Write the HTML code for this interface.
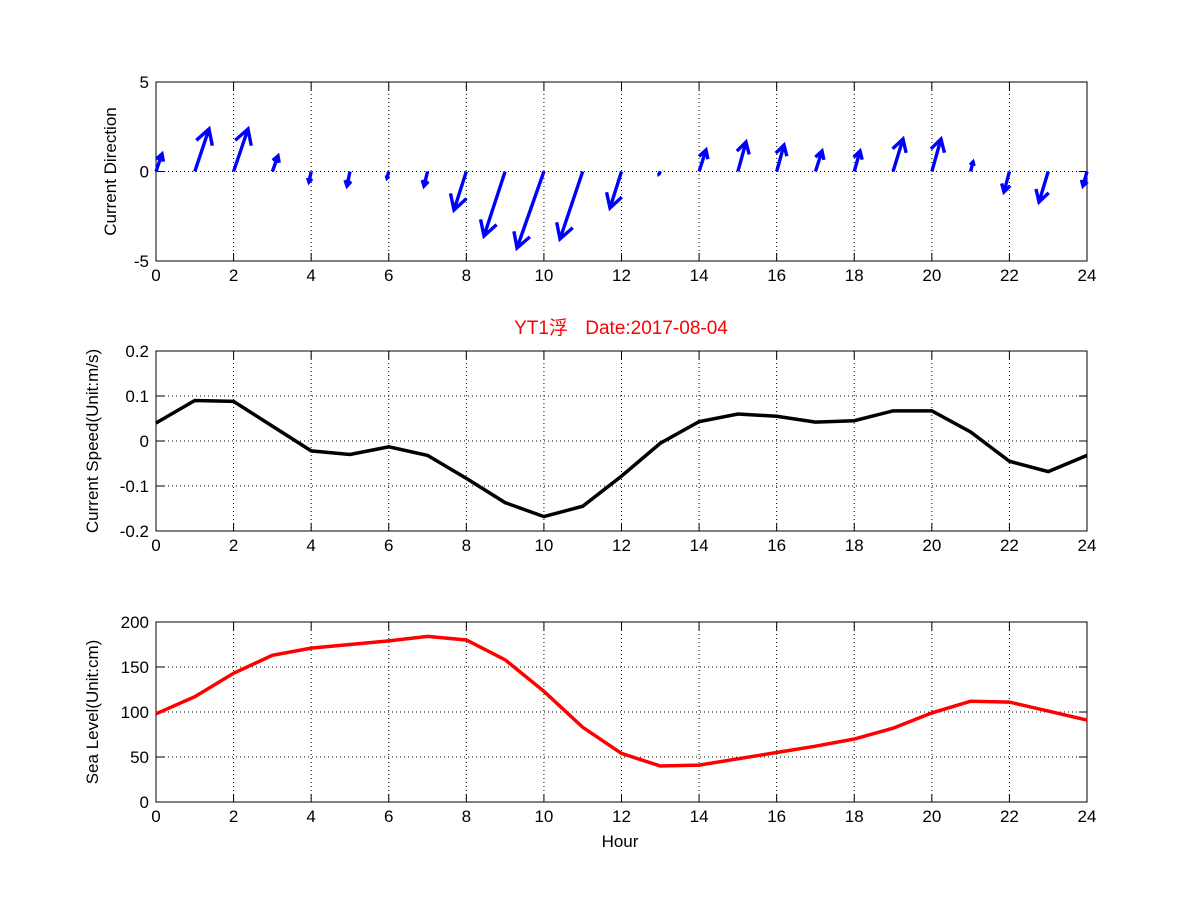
<!DOCTYPE html><html><head><meta charset="utf-8"><style>body{margin:0;background:#fff}svg{display:block}text{font-family:"Liberation Sans","Noto Sans CJK SC",sans-serif;font-size:17px;fill:#000}</style></head><body>
<svg id="s" width="1201" height="901" xmlns="http://www.w3.org/2000/svg"></svg>
<script>
const s=document.getElementById('s');let h='';
const X0=156,X1=1087,dx=(X1-X0)/24;
function ax(top,bot,yt,ylab){
 h+=`<rect x="${X0}" y="${top}" width="${X1-X0}" height="${bot-top}" fill="#fff" stroke="#000" stroke-width="1"/>`;
 for(let i=2;i<24;i+=2){let x=X0+i*dx;h+=`<line x1="${x}" y1="${top}" x2="${x}" y2="${bot}" stroke="#000" stroke-dasharray="1,3"/>`;}
 for(let i=0;i<=24;i+=2){let x=X0+i*dx;h+=`<line x1="${x}" y1="${bot}" x2="${x}" y2="${bot-8}" stroke="#000"/><line x1="${x}" y1="${top}" x2="${x}" y2="${top+8}" stroke="#000"/><text x="${x}" y="${bot+20}" text-anchor="middle">${i}</text>`;}
 yt.forEach(([v,y])=>{if(y>top&&y<bot)h+=`<line x1="${X0}" y1="${y}" x2="${X1}" y2="${y}" stroke="#000" stroke-dasharray="1,3"/>`;h+=`<line x1="${X0}" y1="${y}" x2="${X0+8}" y2="${y}" stroke="#000"/><line x1="${X1}" y1="${y}" x2="${X1-8}" y2="${y}" stroke="#000"/><text x="${X0-7}" y="${y+6}" text-anchor="end">${v}</text>`;});
 h+=`<text transform="translate(${ylab},${(top+bot)/2}) rotate(-90)" text-anchor="middle">${arguments[4]}</text>`;
}
ax(82,261,[[5,82],[0,171.5],[-5,261]],116,'Current Direction');
const ends=[[162,154],[209,129],[248,129],[278,156],[309,182],[347,186],[387,178],[424,186],[454,210],[484,236],[517,248],[560,239],[610,208],[659,174],[706,150],[746,142],[784,145],[822,151],[860,151],[903,139],[941,139],[973,162],[1004,192],[1039,202],[1083,186]];
ends.forEach(([ex,ey],i)=>{let x=X0+i*dx,y=171.5,vx=ex-x,vy=ey-y,L=Math.hypot(vx,vy);if(L<1)return;let ux=vx/L,uy=vy/L,hl=Math.min(L*0.42,17);
 const a=0.52;let c=Math.cos(a),sn=Math.sin(a);
 let p1=[ex-hl*(ux*c-uy*sn),ey-hl*(uy*c+ux*sn)],p2=[ex-hl*(ux*c+uy*sn),ey-hl*(uy*c-ux*sn)];
 h+=`<path d="M${x},${y}L${ex},${ey}M${p1}L${ex},${ey}L${p2}" stroke="#0000ff" stroke-width="3.4" fill="none"/>`;});
ax(351,531,[['0.2',351],['0.1',396],['0',441],['-0.1',486],['-0.2',531]],98,'Current Speed(Unit:m/s)');
const sp=[0.04,0.09,0.088,0.033,-0.022,-0.03,-0.013,-0.032,-0.083,-0.137,-0.168,-0.145,-0.078,-0.005,0.043,0.06,0.055,0.042,0.045,0.067,0.067,0.02,-0.045,-0.068,-0.032];
h+=`<polyline points="${sp.map((v,i)=>(X0+i*dx)+','+(441-450*v)).join(' ')}" fill="none" stroke="#000" stroke-width="3.5"/>`;
ax(622,802,[[200,622],[150,667],[100,712],[50,757],[0,802]],98,'Sea Level(Unit:cm)');
const sl=[98,117,143,163,171,175,179,184,180,158,123,83,54,40,41,48,55,62,70,82,99,112,111,101,91];
h+=`<polyline points="${sl.map((v,i)=>(X0+i*dx)+','+(802-0.9*v)).join(' ')}" fill="none" stroke="#ff0000" stroke-width="3.5"/>`;
h+=`<text x="620" y="847" text-anchor="middle">Hour</text>`;
h+=`<text x="621" y="334" text-anchor="middle" style="fill:#ff0000;font-size:19px">YT1浮 <tspan dx="12">Date:2017-08-04</tspan></text>`;
s.innerHTML=h;
</script></body></html>
